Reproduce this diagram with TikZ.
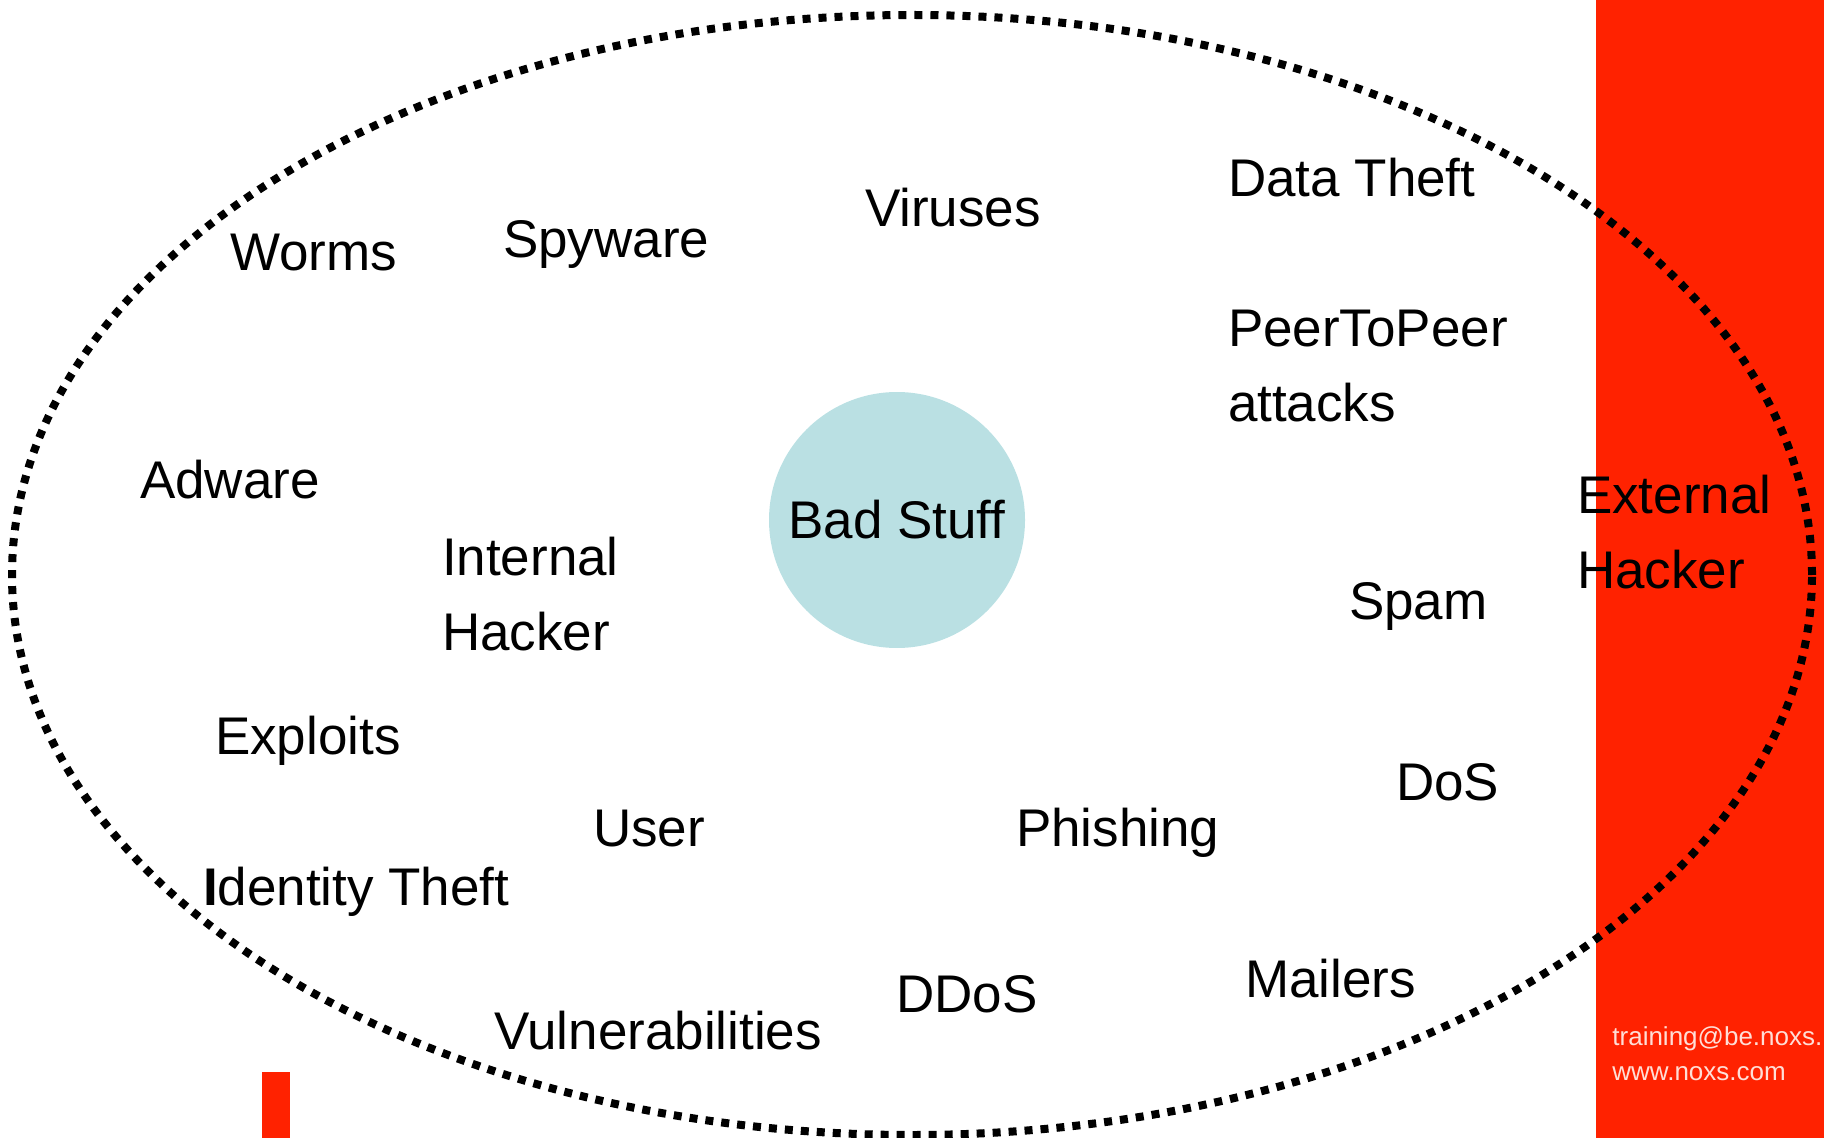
\documentclass[tikz,border=0pt]{standalone}
\usepackage{fontspec}
\setmainfont{Liberation Sans}
\definecolor{slidered}{RGB}{255,34,0}
\definecolor{badblue}{RGB}{186,224,227}
\definecolor{foottext}{RGB}{255,222,214}
\newcommand{\twolines}[2]{\begin{tabular}[t]{@{}l@{}}#1\\#2\end{tabular}}
\begin{document}
\begin{tikzpicture}[x=0.5pt,y=-0.5pt,
  lbl/.style={anchor=base west,inner sep=0pt,outer sep=0pt,
    font=\fontsize{26.5pt}{37.5pt}\selectfont},
  core/.style={circle,fill=badblue,minimum size=128pt,inner sep=0pt,
    font=\fontsize{26.5pt}{37.5pt}\selectfont},
  foot/.style={anchor=base west,inner sep=0pt,text=foottext,
    font=\fontsize{13pt}{17.5pt}\selectfont},
  dotring/.style={line width=4pt,dash pattern=on 4pt off 4pt}]
\useasboundingbox (0,0) rectangle (1824,1138);
% red band on the right and small bar bottom left
\fill[slidered] (1596,0) rectangle (1824,1138);
\fill[slidered] (262,1072) rectangle (290,1138);
% central circle
\node[core] (bad) at (897,520) {Bad Stuff};
% labels
\node[lbl] (worms) at (230,271) {Worms};
\node[lbl] (spyware) at (503,258) {Spyware};
\node[lbl] (viruses) at (865,227) {Viruses};
\node[lbl] (datatheft) at (1228,197) {Data Theft};
\node[lbl] (p2p) at (1228,347) {\twolines{PeerToPeer}{attacks}};
\node[lbl] (adware) at (140,498) {Adware};
\node[lbl] (internal) at (442,575) {\twolines{Internal}{Hacker}};
\node[lbl] (external) at (1577,513) {\twolines{External}{Hacker}};
\node[lbl] (spam) at (1349,619) {Spam};
\node[lbl] (exploits) at (215,754) {Exploits};
\node[lbl] (dos) at (1396,800) {DoS};
\node[lbl] (user) at (593,846) {User};
\node[lbl] (phishing) at (1016,846) {Phishing};
\node[lbl] (identity) at (203,905) {{\bfseries I}dentity Theft};
\node[lbl] (mailers) at (1245,997) {Mailers};
\node[lbl] (ddos) at (896,1012) {DDoS};
\node[lbl] (vuln) at (494,1049) {Vulnerabilities};
% footer
\node[foot] (mail) at (1612,1045) {training@be.noxs.};
\node[foot] (web) at (1612,1080) {www.noxs.com};
% dotted ellipse
\draw[dotring] (912,575) ellipse [x radius=450pt, y radius=280pt];
\end{tikzpicture}
\end{document}
